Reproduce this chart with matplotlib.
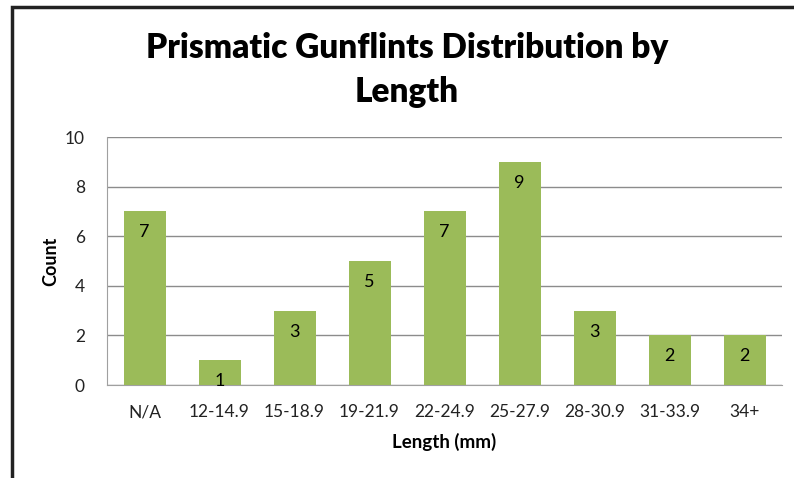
import matplotlib
matplotlib.use("Agg")
import matplotlib.pyplot as plt
from matplotlib.patches import Rectangle

categories = ["N/A", "12-14.9", "15-18.9", "19-21.9", "22-24.9", "25-27.9", "28-30.9", "31-33.9", "34+"]
counts = [7, 1, 3, 5, 7, 9, 3, 2, 2]
yticks = [0, 2, 4, 6, 8, 10]

plt.rcParams['font.family'] = ['Lato', 'DejaVu Sans']

W, H = 794, 478
fig = plt.figure(figsize=(W / 100, H / 100), dpi=100)
fig.patch.set_facecolor("white")

# outer chart border (partially cropped)
fig.add_artist(Rectangle((12 / W, -0.1), 1.2, (H - 7) / H + 0.1, transform=fig.transFigure,
                         fill=False, edgecolor="#222222", linewidth=2.5))

left, right, top, bottom = 107, 782, 137, 385
ax = fig.add_axes([left / W, 1 - bottom / H, (right - left) / W, (bottom - top) / H])

x = range(len(categories))
bars = ax.bar(x, counts, width=0.56, color="#9BBB59", zorder=3)
for xi, v in zip(x, counts):
    ax.text(xi, v - 0.85, str(v), ha="center", va="center", fontsize=13, color="black", zorder=4)

ax.set_xlim(-0.5, len(categories) - 0.5)
ax.set_ylim(0, 10)
ax.set_yticks(yticks)
ax.set_xticks(list(x))
ax.set_xticklabels(categories)
ax.yaxis.grid(True, color="#8c8c8c", linewidth=1)
ax.set_axisbelow(True)
for s in ["top", "right"]:
    ax.spines[s].set_visible(False)
ax.spines["left"].set_color("#a0a0a0")
ax.spines["bottom"].set_color("#a0a0a0")
ax.tick_params(axis="both", length=0, labelsize=12.5, colors="#222222")
ax.tick_params(axis="x", pad=14)
ax.tick_params(axis="y", pad=16)

ax.set_xlabel("Length (mm)", fontsize=13.5, fontweight="bold", labelpad=9)
ax.set_ylabel("Count", fontsize=13, fontweight="bold", labelpad=4)

fig.text(407 / W, 1 - 70 / H, "Prismatic Gunflints Distribution by\nLength", ha="center", va="center",
         fontsize=24, fontweight="heavy", linespacing=1.45)

fig.savefig("out.png", dpi=100, facecolor="white")
